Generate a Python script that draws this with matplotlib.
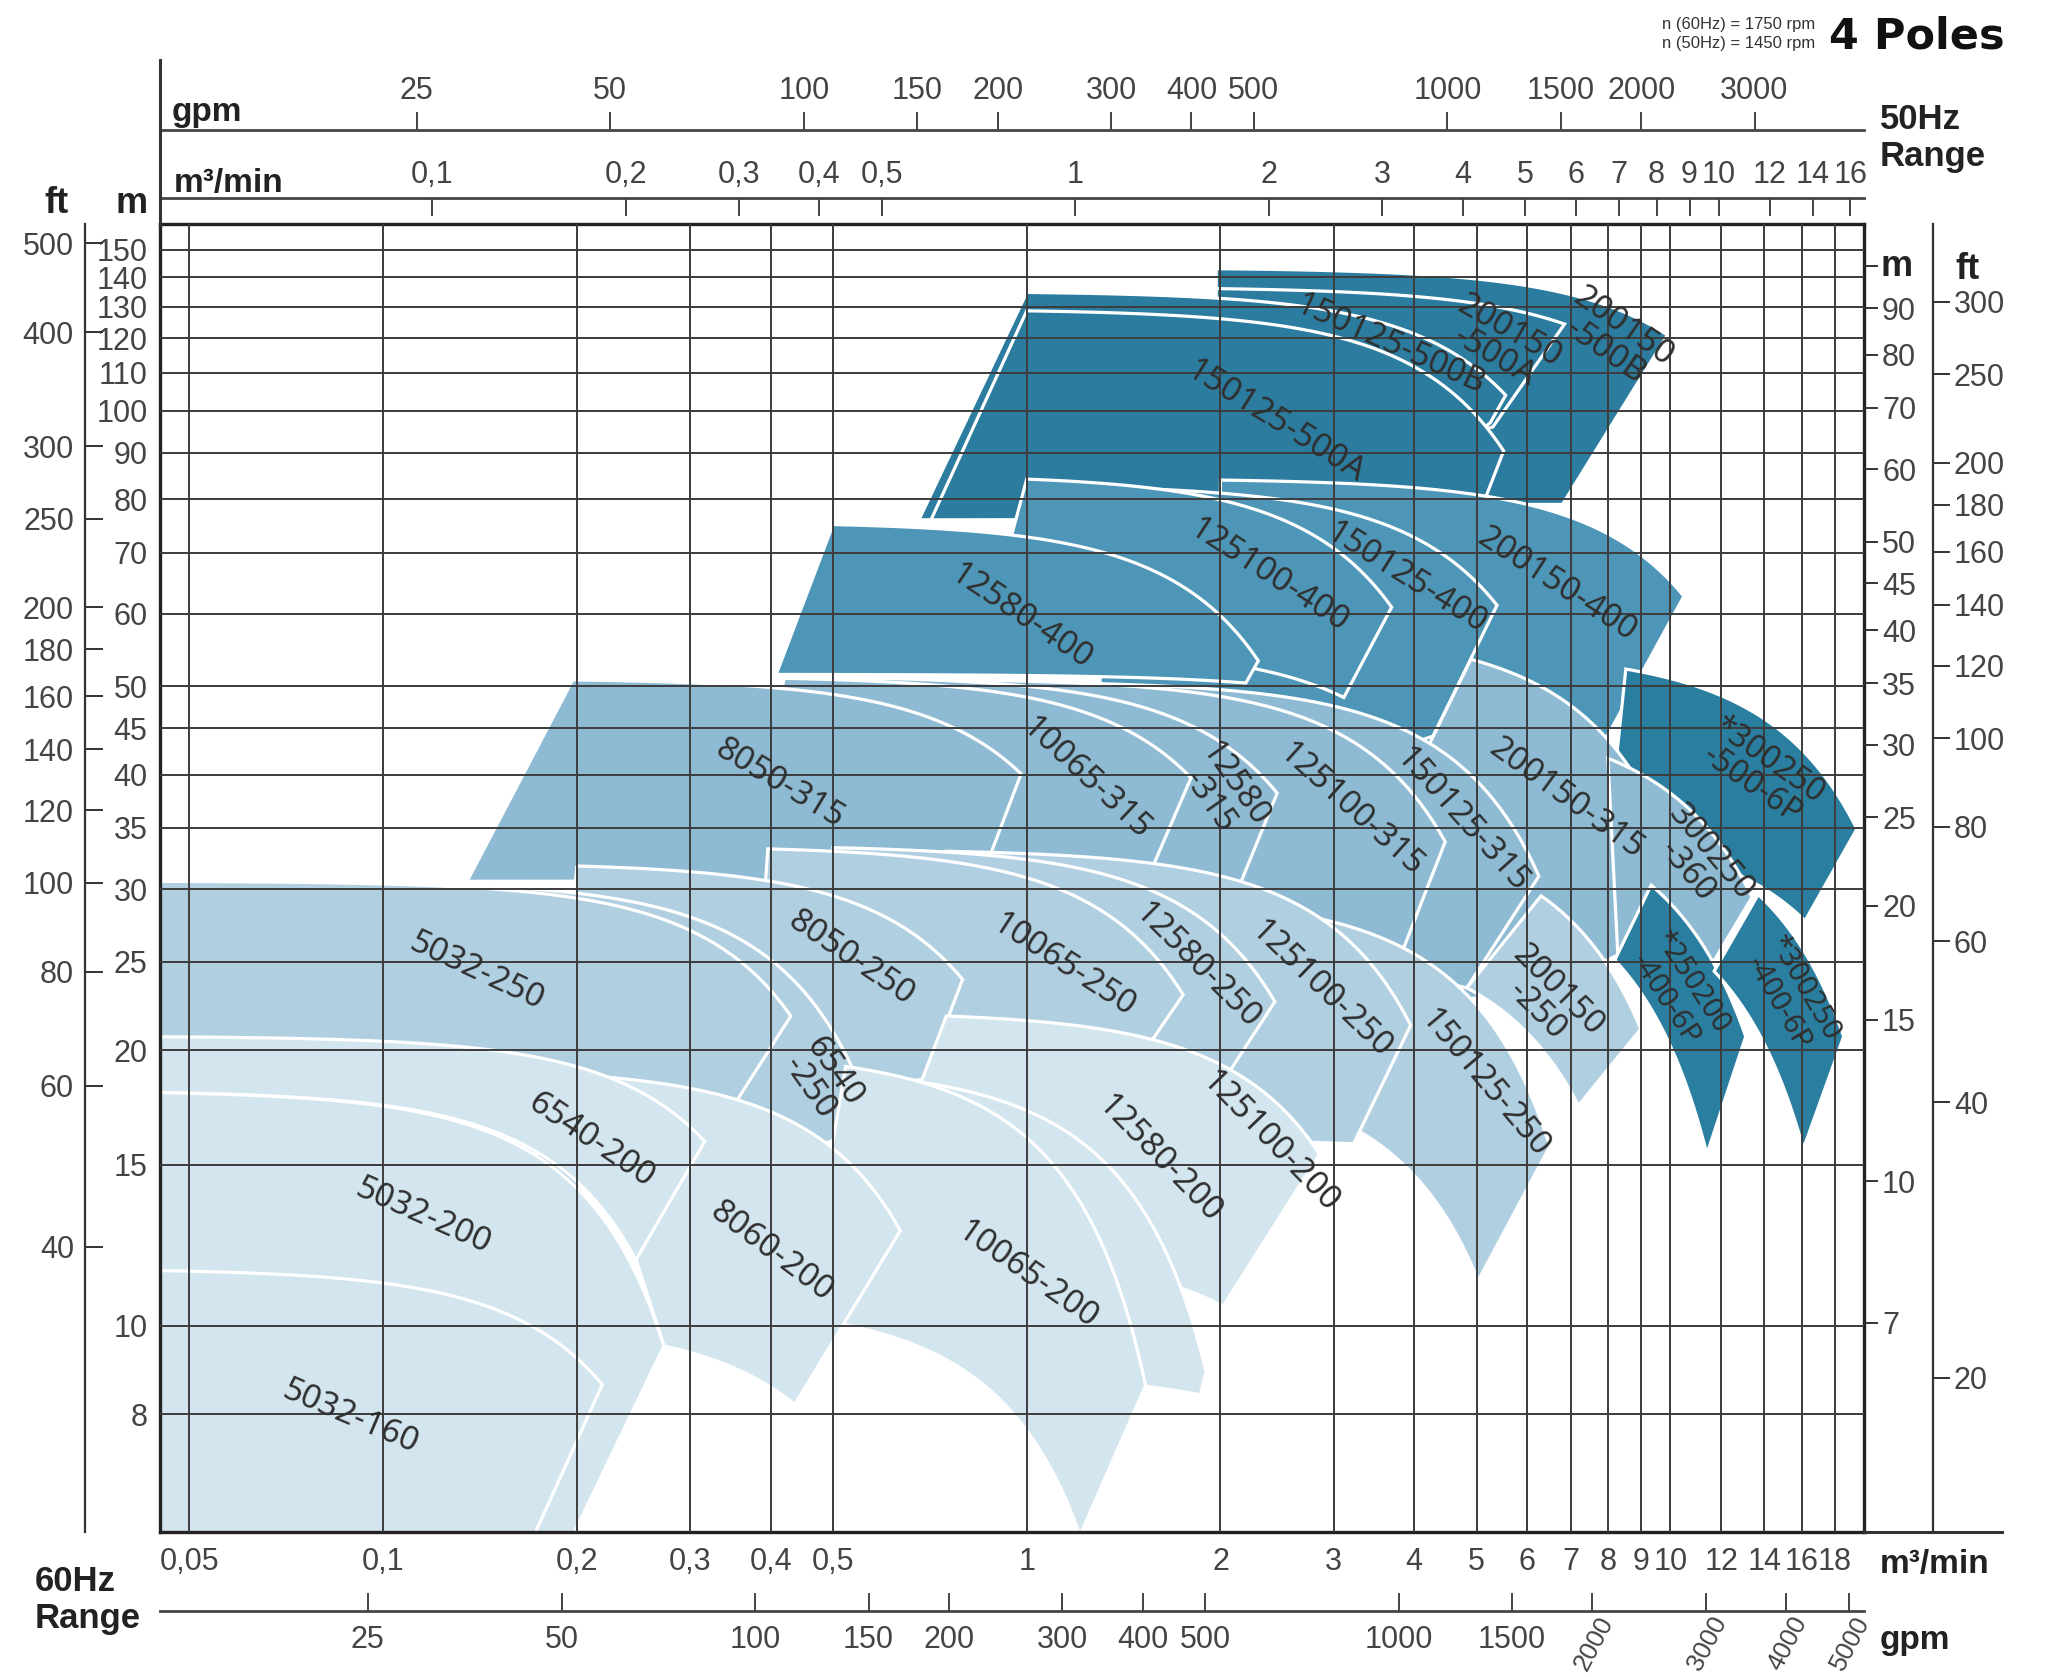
import numpy as np
import matplotlib
matplotlib.use("Agg")
import matplotlib.pyplot as plt
from matplotlib.patches import Polygon
from matplotlib.lines import Line2D
from matplotlib.ticker import FixedLocator, NullLocator, FixedFormatter
import matplotlib.transforms as mtransforms

FIG_W, FIG_H, DPI = 2049, 1677, 100

# ---------------- scales ----------------
Q_MIN, Q_MAX = 0.045, 20.0      # m3/min (60 Hz)
H_MIN, H_MAX = 5.95, 160.0      # m (60 Hz)
FLOW_50 = 0.84                  # 50 Hz flow / 60 Hz flow (as drawn)
HEAD_50 = 0.695                 # 50 Hz head / 60 Hz head (as drawn)
M_TO_FT = 3.28084
GPM_PER_M3MIN = 264.17
N_EXP = 2.5                     # shape exponent of the H-Q curves

# ---------------- ticks ----------------
Q_TICKS_60 = [0.05, 0.1, 0.2, 0.3, 0.4, 0.5, 1, 2, 3, 4, 5, 6, 7, 8, 9, 10, 12, 14, 16, 18]
Q_TICKS_50 = [0.1, 0.2, 0.3, 0.4, 0.5, 1, 2, 3, 4, 5, 6, 7, 8, 9, 10, 12, 14, 16]
GPM_TICKS_60 = [25, 50, 100, 150, 200, 300, 400, 500, 1000, 1500, 2000, 3000, 4000, 5000]
GPM_TICKS_50 = [25, 50, 100, 150, 200, 300, 400, 500, 1000, 1500, 2000, 3000]
M_TICKS_60 = [150, 140, 130, 120, 110, 100, 90, 80, 70, 60, 50, 45, 40, 35, 30, 25, 20, 15, 10, 8]
FT_TICKS_60 = [500, 400, 300, 250, 200, 180, 160, 140, 120, 100, 80, 60, 40]
M_TICKS_50 = [100, 90, 80, 70, 60, 50, 45, 40, 35, 30, 25, 20, 15, 10, 7]
FT_TICKS_50 = [300, 250, 200, 180, 160, 140, 120, 100, 80, 60, 40, 20]

# ---------------- pump tiles (drawing order) ----------------
# TL = start of max-impeller curve, K = its end, BR/BL = ends of min-impeller curve
PUMP = ["200150-500B", "200150-500A", "150125-500B", "150125-500A",
        "200150-400", "150125-400", "125100-400", "12580-400",
        "300250-500-6P",
        "200150-315", "300250-360", "150125-315", "125100-315", "12580-315", "10065-315", "8050-315",
        "200150-250", "150125-250", "125100-250", "12580-250", "10065-250", "8050-250", "6540-250", "5032-250",
        "250200-400-6P", "300250-400-6P",
        "125100-200", "12580-200", "10065-200", "8060-200", "6540-200", "5032-200", "5032-160"]
SERIES = [5, 5, 5, 5,
          4, 4, 4, 4,
          6,
          3, 3, 3, 3, 3, 3, 3,
          2, 2, 2, 2, 2, 2, 2, 2,
          6, 6,
          1, 1, 1, 1, 1, 1, 1]
Q_TL = [1.97, 1.97, 1.0, 1.0,
        2.0, 1.3, 1.0, 0.50,
        8.53,
        4.9, 8.0, 1.0, 0.8, 0.6, 0.42, 0.197,
        6.3, 1.0, 0.75, 0.5, 0.396, 0.20, 0.12, 0.04,
        9.34, 13.7,
        0.75, 0.55, 0.523, 0.2, 0.04, 0.04, 0.04]
H_TL = [143, 136, 134.7, 128.6,
        84, 82.5, 84.2, 75.1,
        52.2,
        53.5, 41.7, 50.5, 50.8, 51.0, 51.0, 50.8,
        29.5, 29.5, 33.0, 33.3, 33.2, 31.8, 30.4, 30.6,
        30.3, 29.6,
        21.8, 18.8, 19.2, 18.8, 20.7, 18.0, 11.5]
Q_K = [9.9, 6.85, 5.55, 5.51,
       10.5, 5.38, 3.69, 2.29,
       19.5,
       10.2, 13.4, 6.25, 4.47, 2.45, 1.8, 0.98,
       9.0, 6.5, 3.95, 2.43, 1.75, 0.795, 0.558, 0.43,
       13.1, 18.6,
       2.85, 1.9, 1.53, 0.636, 0.316, 0.273, 0.219]
H_K = [121, 124.4, 104, 90.4,
       62.7, 61.3, 61.0, 53.3,
       34.9,
       32.1, 29.4, 31.0, 33.8, 38.2, 39.7, 40.1,
       21.1, 15.7, 21.3, 22.6, 23.0, 23.9, 17.9, 21.8,
       20.7, 20.7,
       15.4, 8.9, 8.6, 12.7, 15.9, 9.5, 8.62]
Q_BR = [6.8, 5.3, 5.25, 5.08,
        7.9, 4.28, 3.11, 2.19,
        16.2,
        8.45, 11.4, 4.83, 3.83, 2.13, 1.55, 0.853,
        7.2, 5.03, 3.22, 2.08, 1.55, 0.694, 0.505, 0.354,
        11.4, 16.1,
        2.02, 1.86, 1.21, 0.436, 0.247, 0.188, 0.164]
H_BR = [79, 96, 97, 78,
        43.5, 44.1, 48.6, 50.4,
        27.7,
        25.6, 24.3, 23.4, 25.6, 30.0, 31.1, 31.0,
        17.4, 11.2, 15.8, 19.1, 20.3, 18.6, 16.0, 17.6,
        15.4, 15.6,
        10.5, 8.4, 5.9, 8.2, 11.8, 5.5, 5.5]
Q_BL = [1.97, 1.97, 0.68, 0.71,
        2.0, 1.3, 0.85, 0.408,
        8.0,
        2.64, 8.3, 1.0, 0.8, 0.5, 0.35, 0.135,
        4.83, 2.6, 0.9, 0.6, 0.37, 0.185, 0.12, 0.04,
        8.2, 11.7,
        0.5425, 1.5, 0.45, 0.273, 0.04, 0.04, 0.04]
H_BL = [79, 90, 76, 76,
        38, 40, 55, 51.5,
        34,
        22, 25, 25, 28, 30, 30, 30.6,
        23.4, 17.5, 16, 17, 17, 18, 14, 15,
        25.1, 24.4,
        12.0, 8.6, 10.2, 9.5, 18.0, 5.5, 5.5]

SERIES_COLOR = {1: "#d3e5ee", 2: "#b0cfe1", 3: "#8ebbd3", 4: "#4e96b7", 5: "#2b7c9f", 6: "#2a7e9f"}

# ---------------- tile labels ----------------
LABEL_TEXT = ["5032-160", "5032-200", "6540-200", "8060-200", "10065-200", "12580-200", "125100-200",
              "5032-250", "6540\n-250", "8050-250", "10065-250", "12580-250", "125100-250", "150125-250", "200150\n-250",
              "8050-315", "10065-315", "12580\n-315", "125100-315", "150125-315", "200150-315", "300250\n-360",
              "12580-400", "125100-400", "150125-400", "200150-400",
              "150125-500A", "150125-500B", "200150\n-500A", "200150\n-500B",
              "*300250\n-500-6P", "*250200\n-400-6P", "*300250\n-400-6P"]
LABEL_Q = [0.0889, 0.1156, 0.2104, 0.4015, 1.0, 1.604, 2.388,
           0.140, 0.48, 0.534, 1.14, 1.837, 2.866, 5.145, 6.44,
           0.413, 1.235, 2.008, 3.18, 4.73, 6.88, 11.08,
           0.977, 2.377, 3.89, 6.66,
           2.43, 3.66, 5.47, 8.18,
           13.8, 10.3, 15.4]
LABEL_H = [7.93, 13.16, 15.96, 12.05, 11.36, 15.2, 15.9,
           24.36, 18.57, 25.2, 24.75, 24.75, 23.3, 18.4, 22.65,
           39.1, 39.6, 38.2, 36.6, 35.7, 37.7, 32.1,
           59.6, 66.0, 65.6, 64.5,
           97.4, 118.2, 118.2, 119.7,
           40.2, 23.2, 22.9]
LABEL_ROT = [-23, -24, -34, -37, -35, -46, -46,
             -25, -55, -34, -33, -45, -44, -50, -45,
             -31, -43, -55, -42, -48, -36, -50,
             -34, -33, -32, -33,
             -32, -24, -30, -35,
             -35, -57, -60]
LABEL_SIZE = [24] * 30 + [23, 21, 21]
LABEL_SPACING = [0.88] * 30 + [0.9, 1.08, 1.08]


def hq_curve(q1, h1, q2, h2, n=N_EXP, num=80):
    b = (h1 - h2) / (q2 ** n - q1 ** n)
    a = h1 + b * q1 ** n
    q = np.geomspace(q1, q2, num)
    return q, a - b * q ** n


def log_line(q1, h1, q2, h2, num=12):
    return np.geomspace(q1, q2, num), np.geomspace(h1, h2, num)


def tile_outline(i):
    qt, ht = hq_curve(Q_TL[i], H_TL[i], Q_K[i], H_K[i])
    qr, hr = log_line(Q_K[i], H_K[i], Q_BR[i], H_BR[i])
    qb, hb = hq_curve(Q_BL[i], H_BL[i], Q_BR[i], H_BR[i])
    ql, hl = log_line(Q_BL[i], H_BL[i], Q_TL[i], H_TL[i])
    q = np.concatenate([qt, qr[1:], qb[::-1][1:], ql[1:]])
    h = np.concatenate([ht, hr[1:], hb[::-1][1:], hl[1:]])
    return np.column_stack([q, h])


def fmt_num(v):
    return ("%g" % v).replace(".", ",")


TICK_FONT = ["Liberation Sans Narrow", "Liberation Sans", "DejaVu Sans"]
BOLD_FONT = ["Liberation Sans", "DejaVu Sans"]
TICK_COLOR = "#444444"

fig = plt.figure(figsize=(FIG_W / DPI, FIG_H / DPI), dpi=DPI)
fig.patch.set_facecolor("white")

L, R, B, T = 0.0781, 0.9097, 0.0865, 0.8664
ax = fig.add_axes([L, B, R - L, T - B])
ax.set_xscale("log")
ax.set_yscale("log")
ax.set_xlim(Q_MIN, Q_MAX)
ax.set_ylim(H_MIN, H_MAX)
ax.set_axisbelow(False)

for i in range(len(PUMP)):
    poly = Polygon(tile_outline(i), closed=True, facecolor=SERIES_COLOR[SERIES[i]],
                   edgecolor="white", linewidth=2.3, joinstyle="miter", zorder=1)
    ax.add_patch(poly)

for txt, q, h, r, fs, ls in zip(LABEL_TEXT, LABEL_Q, LABEL_H, LABEL_ROT, LABEL_SIZE, LABEL_SPACING):
    ax.text(q, h, txt, rotation=r, rotation_mode="anchor", ha="center", va="center",
            fontsize=fs, family=["Noto Sans", "DejaVu Sans"], color="#2f2f2f",
            linespacing=ls, zorder=5)

# grid and main ticks
ax.xaxis.set_major_locator(FixedLocator(Q_TICKS_60))
ax.xaxis.set_minor_locator(NullLocator())
ax.xaxis.set_major_formatter(FixedFormatter([fmt_num(v) for v in Q_TICKS_60]))
ax.yaxis.set_major_locator(FixedLocator(M_TICKS_60))
ax.yaxis.set_minor_locator(NullLocator())
ax.yaxis.set_major_formatter(FixedFormatter([fmt_num(v) for v in M_TICKS_60]))
ax.grid(True, which="major", color="#3c3c3c", linewidth=1.4)
ax.tick_params(axis="x", length=0, pad=11, labelsize=22, labelcolor=TICK_COLOR)
ax.tick_params(axis="y", length=0, pad=9, labelsize=22, labelcolor=TICK_COLOR)
for lab in ax.get_xticklabels() + ax.get_yticklabels():
    lab.set_family(TICK_FONT)
for s in ax.spines.values():
    s.set_linewidth(2.4)
    s.set_color("#222222")

# right metre axis (50 Hz)
axr = ax.twinx()
axr.set_yscale("log")
axr.set_ylim(H_MIN * HEAD_50, H_MAX * HEAD_50)
axr.yaxis.set_major_locator(FixedLocator(M_TICKS_50))
axr.yaxis.set_minor_locator(NullLocator())
axr.yaxis.set_major_formatter(FixedFormatter([""] + [fmt_num(v) for v in M_TICKS_50[1:]]))
axr.tick_params(axis="y", direction="out", length=10, width=1.4, color="#333333",
                pad=3, labelsize=22, labelcolor=TICK_COLOR)
for lab in axr.get_yticklabels():
    lab.set_family(TICK_FONT)
for s in axr.spines.values():
    s.set_visible(False)


def thin_axes(rect):
    a = fig.add_axes(rect)
    a.patch.set_visible(False)
    for s in a.spines.values():
        s.set_visible(False)
    return a


# left ft axis (60 Hz)
axft = thin_axes([0.0415, B, 1e-6, T - B])
axft.set_yscale("log")
axft.set_ylim(H_MIN * M_TO_FT, H_MAX * M_TO_FT)
axft.set_xticks([])
axft.spines["left"].set_visible(True)
axft.spines["left"].set_linewidth(1.6)
axft.spines["left"].set_color("#333333")
axft.yaxis.set_major_locator(FixedLocator(FT_TICKS_60))
axft.yaxis.set_minor_locator(NullLocator())
axft.yaxis.set_major_formatter(FixedFormatter([fmt_num(v) for v in FT_TICKS_60]))
axft.tick_params(axis="y", left=True, right=False, direction="in", length=13, width=1.4,
                 color="#333333", pad=8, labelsize=22, labelcolor=TICK_COLOR)
for lab in axft.get_yticklabels():
    lab.set_family(TICK_FONT)

# right ft axis (50 Hz)
axrft = thin_axes([0.9434, B, 1e-6, T - B])
axrft.set_yscale("log")
axrft.set_ylim(H_MIN * HEAD_50 * M_TO_FT, H_MAX * HEAD_50 * M_TO_FT)
axrft.set_xticks([])
axrft.spines["right"].set_visible(True)
axrft.spines["right"].set_linewidth(1.6)
axrft.spines["right"].set_color("#333333")
axrft.yaxis.set_major_locator(FixedLocator(FT_TICKS_50))
axrft.yaxis.set_minor_locator(NullLocator())
axrft.yaxis.set_major_formatter(FixedFormatter([fmt_num(v) for v in FT_TICKS_50]))
axrft.yaxis.tick_right()
axrft.tick_params(axis="y", right=True, left=False, labelright=True, labelleft=False,
                  direction="out", length=12, width=1.4, color="#333333", pad=3,
                  labelsize=22, labelcolor=TICK_COLOR)
for lab in axrft.get_yticklabels():
    lab.set_family(TICK_FONT)

# top m3/min axis (50 Hz)
axt1 = thin_axes([L, 0.8819, R - L, 1e-6])
axt1.set_xscale("log")
axt1.set_xlim(Q_MIN * FLOW_50, Q_MAX * FLOW_50)
axt1.set_yticks([])
axt1.spines["top"].set_visible(True)
axt1.spines["top"].set_linewidth(2.0)
axt1.spines["top"].set_color("#444444")
axt1.xaxis.set_major_locator(FixedLocator(Q_TICKS_50))
axt1.xaxis.set_minor_locator(NullLocator())
axt1.xaxis.set_major_formatter(FixedFormatter([fmt_num(v) for v in Q_TICKS_50]))
axt1.tick_params(axis="x", top=True, bottom=False, labeltop=True, labelbottom=False,
                 direction="in", length=13, width=1.4, color="#444444", pad=6,
                 labelsize=22, labelcolor=TICK_COLOR)
for lab in axt1.get_xticklabels():
    lab.set_family(TICK_FONT)

# top gpm axis (50 Hz)
axt2 = thin_axes([L, 0.9225, R - L, 1e-6])
axt2.set_xscale("log")
axt2.set_xlim(Q_MIN * FLOW_50 * GPM_PER_M3MIN, Q_MAX * FLOW_50 * GPM_PER_M3MIN)
axt2.set_yticks([])
axt2.spines["top"].set_visible(True)
axt2.spines["top"].set_linewidth(2.0)
axt2.spines["top"].set_color("#444444")
axt2.xaxis.set_major_locator(FixedLocator(GPM_TICKS_50))
axt2.xaxis.set_minor_locator(NullLocator())
axt2.xaxis.set_major_formatter(FixedFormatter([str(v) for v in GPM_TICKS_50]))
axt2.tick_params(axis="x", top=True, bottom=False, labeltop=True, labelbottom=False,
                 direction="out", length=13, width=1.4, color="#444444", pad=4,
                 labelsize=22, labelcolor=TICK_COLOR)
for lab in axt2.get_xticklabels():
    lab.set_family(TICK_FONT)

# bottom gpm axis (60 Hz)
axb2 = thin_axes([L, 0.0394, R - L, 1e-6])
axb2.set_xscale("log")
axb2.set_xlim(Q_MIN * GPM_PER_M3MIN, Q_MAX * GPM_PER_M3MIN)
axb2.set_yticks([])
axb2.spines["bottom"].set_visible(True)
axb2.spines["bottom"].set_linewidth(2.0)
axb2.spines["bottom"].set_color("#444444")
axb2.xaxis.set_major_locator(FixedLocator(GPM_TICKS_60))
axb2.xaxis.set_minor_locator(NullLocator())
axb2.xaxis.set_major_formatter(FixedFormatter([str(v) if v < 2000 else "" for v in GPM_TICKS_60]))
axb2.tick_params(axis="x", bottom=True, top=False, labelbottom=True, direction="in",
                 length=13, width=1.4, color="#444444", pad=10, labelsize=22,
                 labelcolor=TICK_COLOR)
for lab in axb2.get_xticklabels():
    lab.set_family(TICK_FONT)
rot_tr = mtransforms.blended_transform_factory(axb2.transData, axb2.transAxes) + \
    mtransforms.ScaledTranslation(3 / 72, -0.8 / 72, fig.dpi_scale_trans)
for v in GPM_TICKS_60:
    if v >= 2000:
        axb2.text(v, 0, str(v), transform=rot_tr, rotation=62, rotation_mode="anchor",
                  ha="right", va="top", fontsize=18.5, family=TICK_FONT, color=TICK_COLOR,
                  clip_on=False)

# decorative frame extensions
fig.add_artist(Line2D([L, L], [T, 0.9642], color="#333333", linewidth=2.2))
fig.add_artist(Line2D([R, 0.977], [B, B], color="#333333", linewidth=2.2))

# axis titles
bold = dict(family=BOLD_FONT, fontweight="bold", color="#222222")
fig.text(0.0839, 0.933, "gpm", fontsize=24, ha="left", va="center", **bold)
fig.text(0.0849, 0.8903, "m³/min", fontsize=24, ha="left", va="center", **bold)
fig.text(0.0278, 0.8784, "ft", fontsize=26, ha="center", va="center", **bold)
fig.text(0.0644, 0.8784, "m", fontsize=26, ha="center", va="center", **bold)
fig.text(0.9258, 0.8408, "m", fontsize=26, ha="center", va="center", **bold)
fig.text(0.9600, 0.8395, "ft", fontsize=26, ha="center", va="center", **bold)
fig.text(0.9175, 0.9177, "50Hz\nRange", fontsize=25, ha="left", va="center", linespacing=1.15, **bold)
fig.text(0.017, 0.0459, "60Hz\nRange", fontsize=25, ha="left", va="center", linespacing=1.15, **bold)
fig.text(0.9175, 0.0668, "m³/min", fontsize=24, ha="left", va="center", **bold)
fig.text(0.9175, 0.0220, "gpm", fontsize=24, ha="left", va="center", **bold)
fig.text(0.9785, 0.978, "4 Poles", fontsize=31, ha="right", va="center",
         family=["DejaVu Sans"], fontweight="bold", color="#111111")
fig.text(0.886, 0.9855, "n (60Hz) = 1750 rpm", fontsize=12, ha="right", va="center",
         family=TICK_FONT, color="#333333")
fig.text(0.886, 0.9740, "n (50Hz) = 1450 rpm", fontsize=12, ha="right", va="center",
         family=TICK_FONT, color="#333333")

fig.savefig("out.png", dpi=DPI, facecolor="white")
